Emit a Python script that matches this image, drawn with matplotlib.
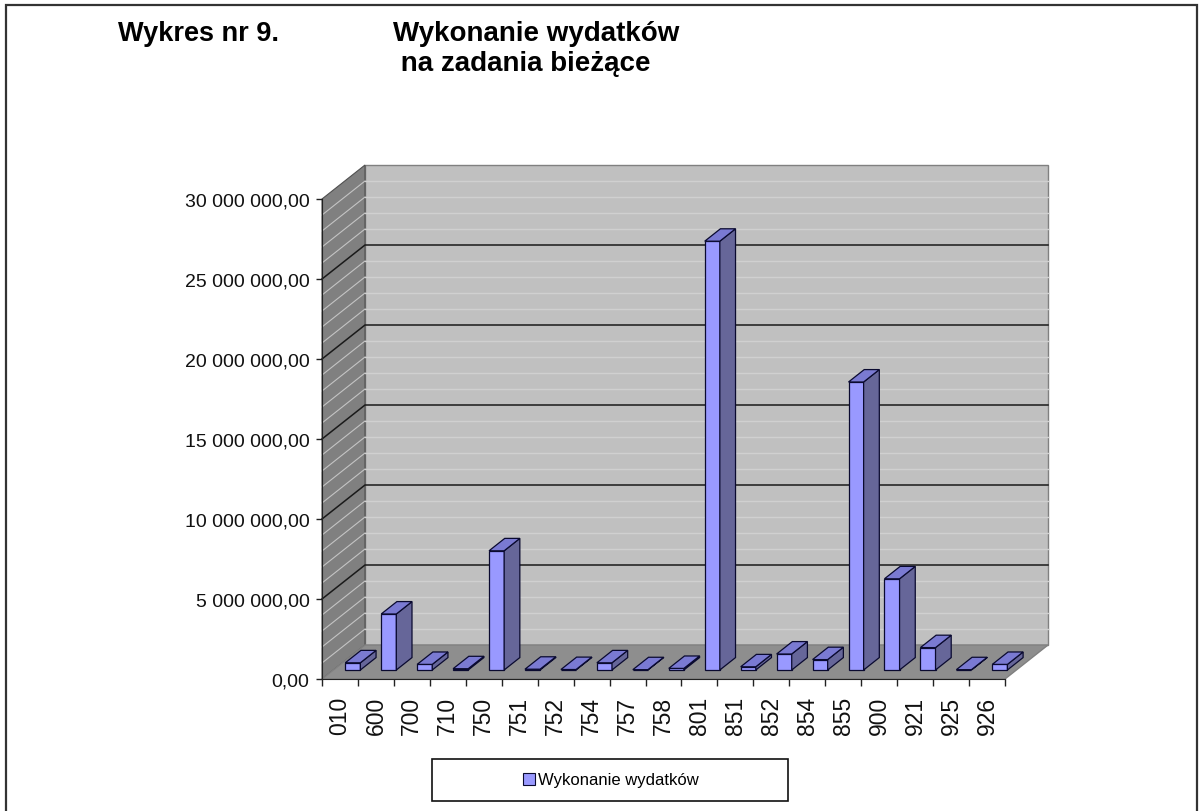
import matplotlib
matplotlib.use('Agg')
import matplotlib.pyplot as plt
from matplotlib.patches import Polygon, Rectangle, Patch
import numpy as np

# ---------------- data ----------------
categories = ['010', '600', '700', '710', '750', '751', '752', '754', '757', '758',
              '801', '851', '852', '854', '855', '900', '921', '925', '926']
values = [450000, 3500000, 350000, 80000, 7450000, 50000, 30000, 450000, 20000, 100000,
          26800000, 200000, 1000000, 650000, 18000000, 5700000, 1400000, 20000, 350000]
series_name = 'Wykonanie wydatków'
y_ticks = [0, 5000000, 10000000, 15000000, 20000000, 25000000, 30000000]
y_minor_step = 1000000
title_left = 'Wykres nr 9.'
title_right = 'Wykonanie wydatków\n na zadania bieżące'


def pl_fmt(v):
    return f"{v:,.2f}".replace(',', ' ').replace('.', ',')


y_tick_labels = [pl_fmt(v) for v in y_ticks]

# ---------------- figure ----------------
W, H = 1204, 812
plt.rcParams['font.family'] = ['Liberation Sans', 'DejaVu Sans']
fig = plt.figure(figsize=(W / 100, H / 100), dpi=100)
fig.patch.set_facecolor('white')

# front plane of the 3D box
ax = fig.add_axes([322 / W, (H - 680) / H, 683 / W, 480 / H])
n = len(categories)
ymax = y_ticks[-1]
ax.set_xlim(0, n)
ax.set_ylim(0, ymax)
ax.patch.set_visible(False)

# depth vector (in data units) corresponding to the oblique projection
depth_px = (43, 34)
DX = depth_px[0] * n / 683.0
DY = depth_px[1] * ymax / 480.0

wall_back = '#C0C0C0'
wall_side = '#808080'
floor_col = '#8E8E8E'
edge_gray = '#808080'


def P(x, y, f):
    return (x + f * DX, y + f * DY)


def poly(pts, fc, ec, lw=0.8, z=1):
    ax.add_patch(Polygon(pts, closed=True, facecolor=fc, edgecolor=ec, lw=lw,
                         clip_on=False, zorder=z))


# back wall
poly([P(0, 0, 1), P(n, 0, 1), P(n, ymax, 1), P(0, ymax, 1)], wall_back, edge_gray, 1.0, 1)
# left wall
poly([P(0, 0, 0), P(0, 0, 1), P(0, ymax, 1), P(0, ymax, 0)], wall_side, '#505050', 0.8, 1)
# floor
poly([P(0, 0, 0), P(n, 0, 0), P(n, 0, 1), P(0, 0, 1)], floor_col, edge_gray, 1.0, 1)

# minor gridlines
for v in np.arange(y_minor_step, ymax, y_minor_step):
    if any(abs(v - t) < 1 for t in y_ticks):
        continue
    xs = [P(0, v, 0)[0], P(0, v, 1)[0], P(n, v, 1)[0]]
    ys = [P(0, v, 0)[1], P(0, v, 1)[1], P(n, v, 1)[1]]
    ax.plot(xs[:2], ys[:2], color='#C4C4C4', lw=0.8, clip_on=False, zorder=2)
    ax.plot(xs[1:], ys[1:], color='#D0D0D0', lw=1.0, clip_on=False, zorder=2)

# major gridlines
for v in y_ticks[1:-1]:
    xs = [P(0, v, 0)[0], P(0, v, 1)[0], P(n, v, 1)[0]]
    ys = [P(0, v, 0)[1], P(0, v, 1)[1], P(n, v, 1)[1]]
    ax.plot(xs, ys, color='#1a1a1a', lw=1.1, clip_on=False, zorder=3)

# bars
front_c = '#9999FF'
side_c = '#666699'
top_c = '#7A7AD2'
bar_edge = '#0A0A30'
bx0, bx1 = 0.33, 0.75
f0, f1 = 0.265, 0.63
for i, v in enumerate(values):
    x0, x1 = i + bx0, i + bx1
    poly([P(x0, 0, f0), P(x1, 0, f0), P(x1, v, f0), P(x0, v, f0)], front_c, bar_edge, 0.9, 5)
    poly([P(x1, 0, f0), P(x1, 0, f1), P(x1, v, f1), P(x1, v, f0)], side_c, bar_edge, 0.9, 5)
    poly([P(x0, v, f0), P(x1, v, f0), P(x1, v, f1), P(x0, v, f1)], top_c, bar_edge, 0.9, 5)

# axes / ticks
for s in ['top', 'right']:
    ax.spines[s].set_visible(False)
ax.spines['left'].set_color('#222222')
ax.spines['bottom'].set_color('#222222')
ax.spines['left'].set_zorder(6)
ax.spines['bottom'].set_zorder(6)
ax.set_yticks(y_ticks)
ax.set_yticklabels(y_tick_labels, fontsize=14, color='#111111')
ax.tick_params(axis='y', direction='out', length=4, width=1, pad=5, color='#222222')
ax.set_xticks(np.arange(n) + 0.5)
ax.set_xticklabels(categories, rotation=90, fontsize=16.5, color='#111111')
ax.set_xticks(np.arange(n + 1), minor=True)
ax.tick_params(axis='x', which='major', length=0, pad=12)
ax.tick_params(axis='x', which='minor', length=5, width=1, color='#222222', direction='out')

# titles
fig.text(118 / W, 1 - 34 / H, title_left, fontsize=19.5, fontweight='bold',
         ha='left', va='center')
fig.text(393 / W, 1 - 49 / H, title_right, fontsize=20, fontweight='bold',
         ha='left', va='center', linespacing=1.22)

# legend box
fig.patches.append(Rectangle((432 / W, 1 - 802 / H), 356 / W, 42 / H,
                             transform=fig.transFigure, facecolor='white',
                             edgecolor='#111111', lw=1.2))
leg = fig.legend(handles=[Patch(facecolor=front_c, edgecolor=bar_edge, lw=0.8)],
                 labels=[series_name], loc='center',
                 bbox_to_anchor=(611 / W, 1 - 781 / H), frameon=False,
                 fontsize=12, handlelength=0.7, handleheight=0.7, handletextpad=0.2)

# outer chart border
fig.patches.append(Rectangle((6 / W, -0.05), 1191 / W, 1 - 6 / H + 0.05,
                             transform=fig.transFigure, facecolor='none',
                             edgecolor='#333333', lw=1.6))

fig.savefig('out.png', dpi=100)
